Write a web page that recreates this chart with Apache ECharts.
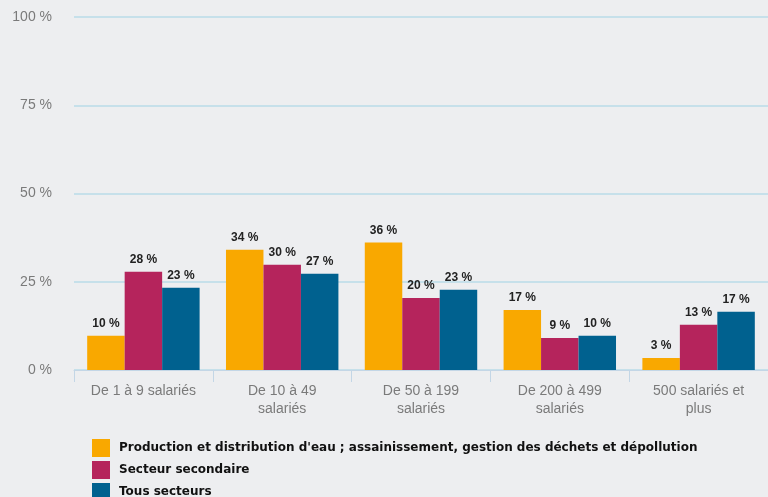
<!DOCTYPE html>
<html>
<head>
<meta charset="utf-8">
<script src="https://cdn.jsdelivr.net/npm/echarts@6/dist/echarts.min.js"></script>
<style>
  html, body { margin: 0; padding: 0; background: #edeef0; }
  #chart { width: 768px; height: 497px; }
</style>
</head>
<body>
<div id="chart"></div>
<script>
// categories and values
const categories = ['De 1 à 9 salariés', 'De 10 à 49 salariés', 'De 50 à 199 salariés', 'De 200 à 499 salariés', '500 salariés et plus']
const seriesNames = [
  "Production et distribution d'eau ; assainissement, gestion des déchets et dépollution",
  'Secteur secondaire',
  'Tous secteurs'
]
const eauValues = [9.7, 34.1, 36.1, 17.0, 3.4]
const secondaireValues = [27.8, 29.8, 20.4, 9.1, 12.8]
const tousValues = [23.3, 27.3, 22.7, 9.7, 16.5]
const yTicks = [0, 25, 50, 75, 100]

const colors = ['#f9a800', '#b5245c', '#00618f']

let chart = echarts.init(document.getElementById('chart'))

function makeSeries (name, data) {
  return {
    name: name,
    type: 'bar',
    data: data,
    barGap: '0%',
    barCategoryGap: '19%',
    label: {
      show: true,
      position: 'top',
      distance: 6,
      color: '#222',
      fontFamily: 'Liberation Sans',
      fontWeight: 'bold',
      fontSize: 12,
      formatter: function (p) {
        return Math.round(p.value) + ' %'
      }
    }
  }
}

chart.setOption({
  backgroundColor: '#edeef0',
  color: colors,
  animation: false,
  grid: {
    left: 74,
    right: 0,
    top: 17,
    height: 353
  },
  legend: {
    orient: 'vertical',
    left: 92,
    top: 439,
    height: 90,
    padding: 0,
    itemWidth: 18,
    itemHeight: 18,
    itemGap: 4,
    icon: 'rect',
    selectedMode: false,
    textStyle: {
      fontFamily: 'DejaVu Sans',
      fontWeight: 'bold',
      fontSize: 12,
      color: '#111',
      padding: [0, 0, 0, 4]
    },
    data: seriesNames
  },
  xAxis: {
    type: 'category',
    data: categories,
    axisLine: { lineStyle: { color: '#c3d6e6', width: 1 } },
    axisTick: { show: true, length: 12, lineStyle: { color: '#c3d6e6' } },
    axisLabel: {
      color: '#7a7a7a',
      fontFamily: 'Liberation Sans',
      fontSize: 14,
      margin: 12,
      lineHeight: 18,
      interval: 0,
      formatter: function (v) {
        const map = {
          'De 1 à 9 salariés': 'De 1 à 9 salariés',
          'De 10 à 49 salariés': 'De 10 à 49\nsalariés',
          'De 50 à 199 salariés': 'De 50 à 199\nsalariés',
          'De 200 à 499 salariés': 'De 200 à 499\nsalariés',
          '500 salariés et plus': '500 salariés et\nplus'
        }
        return map[v]
      }
    }
  },
  yAxis: {
    type: 'value',
    min: yTicks[0],
    max: yTicks[yTicks.length - 1],
    interval: 25,
    axisLine: { show: false },
    axisTick: { show: false },
    splitLine: { lineStyle: { color: '#c6e0ea', width: 2 } },
    axisLabel: {
      color: '#7a7a7a',
      fontFamily: 'Liberation Sans',
      fontSize: 14,
      margin: 22,
      formatter: '{value} %'
    }
  },
  series: [
    makeSeries(seriesNames[0], eauValues),
    makeSeries(seriesNames[1], secondaireValues),
    makeSeries(seriesNames[2], tousValues)
  ]
})
</script>
</body>
</html>
